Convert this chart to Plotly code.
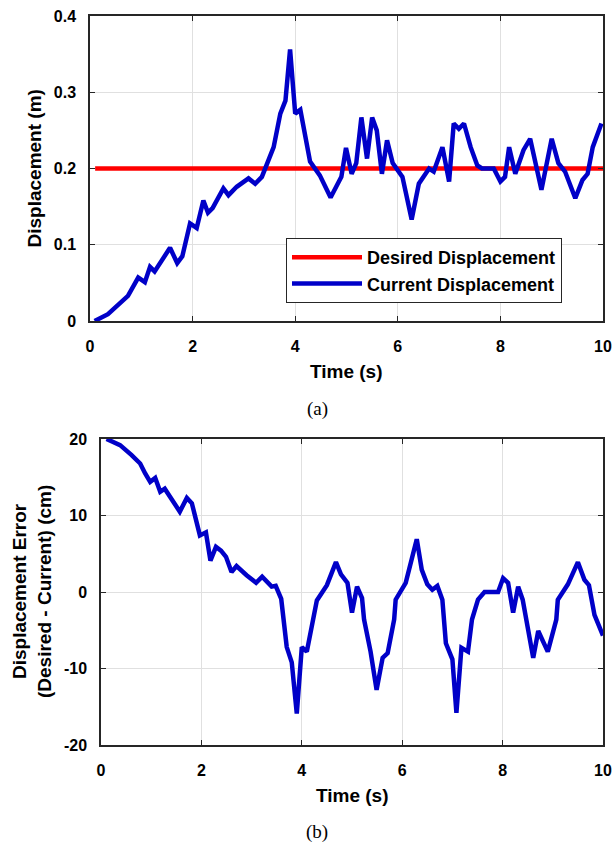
import plotly.graph_objects as go

# ---------------- data ----------------
desired_t = [0.1, 10.0]
desired_disp = [0.2, 0.2]

current_t = [0.09, 0.35, 0.74, 0.94, 1.07, 1.17, 1.26, 1.56, 1.70, 1.80,
             1.95, 2.08, 2.21, 2.30, 2.39, 2.60, 2.70, 2.86, 3.09, 3.22,
             3.35, 3.48, 3.58, 3.71, 3.81, 3.90, 4.00, 4.10, 4.29, 4.48,
             4.69, 4.90, 4.99, 5.10, 5.19, 5.29, 5.40, 5.50, 5.59, 5.69,
             5.79, 5.90, 6.09, 6.27, 6.41, 6.61, 6.70, 6.87, 7.00, 7.09,
             7.19, 7.29, 7.42, 7.55, 7.64, 7.87, 8.00, 8.09, 8.17, 8.29,
             8.45, 8.58, 8.80, 9.00, 9.13, 9.26, 9.46, 9.60, 9.70, 9.80,
             9.97]
current_disp = [0.0, 0.009, 0.033, 0.057, 0.051, 0.071, 0.065, 0.096, 0.076, 0.085,
                0.128, 0.122, 0.158, 0.142, 0.148, 0.174, 0.165, 0.176, 0.187, 0.180,
                0.189, 0.211, 0.228, 0.272, 0.289, 0.356, 0.272, 0.277, 0.209, 0.191,
                0.162, 0.189, 0.227, 0.193, 0.207, 0.267, 0.213, 0.267, 0.250, 0.193,
                0.237, 0.207, 0.189, 0.133, 0.180, 0.200, 0.196, 0.228, 0.183, 0.259,
                0.252, 0.259, 0.228, 0.204, 0.200, 0.200, 0.183, 0.189, 0.228, 0.193,
                0.224, 0.239, 0.172, 0.239, 0.207, 0.196, 0.161, 0.185, 0.193, 0.228,
                0.259]

error_t = [0.11, 0.38, 0.61, 0.78, 0.88, 0.98, 1.08, 1.18, 1.27, 1.41,
           1.57, 1.71, 1.81, 1.97, 2.09, 2.18, 2.29, 2.39, 2.49, 2.60,
           2.70, 2.90, 3.09, 3.21, 3.40, 3.48, 3.59, 3.70, 3.80, 3.90,
           4.00, 4.10, 4.30, 4.50, 4.68, 4.78, 4.91, 5.00, 5.10, 5.20,
           5.24, 5.37, 5.49, 5.61, 5.71, 5.84, 5.87, 6.07, 6.21, 6.29,
           6.39, 6.50, 6.60, 6.70, 6.80, 6.87, 7.00, 7.08, 7.18, 7.31,
           7.39, 7.51, 7.64, 7.91, 8.01, 8.11, 8.21, 8.31, 8.40, 8.47,
           8.61, 8.71, 8.90, 9.07, 9.10, 9.30, 9.50, 9.63, 9.72, 9.83,
           10.0]
error_cm = [20, 19.2, 17.9, 16.8, 15.5, 14.4, 14.9, 13.1, 13.5, 12.0,
            10.5, 12.3, 11.6, 7.4, 7.8, 4.1, 5.9, 5.4, 4.6, 2.6,
            3.4, 2.2, 1.2, 2.0, 0.7, 0.8, -0.9, -7.2, -9.2, -15.9,
            -7.2, -7.8, -1.1, 0.9, 3.9, 2.3, 1.2, -2.7, 0.7, -0.8,
            -3.6, -7.8, -12.8, -8.6, -8.0, -3.6, -1.0, 1.2, 5.1, 6.9,
            2.9, 1.0, 0.3, 0.8, -1.0, -6.7, -8.8, -15.8, -7.3, -7.8,
            -3.6, -1.0, 0, 0, 1.8, 1.2, -2.7, 0.7, -1.0, -3.6,
            -8.6, -5.1, -7.8, -3.6, -1.0, 1.0, 3.9, 1.6, 0.9, -3.0,
            -5.7]

x_ticks = [0, 2, 4, 6, 8, 10]
x_ticktext = ["0", "2", "4", "6", "8", "10"]
y1_ticks = [0, 0.1, 0.2, 0.3, 0.4]
y1_ticktext = ["0", "0.1", "0.2", "0.3", "0.4"]
y2_ticks = [-20, -10, 0, 10, 20]
y2_ticktext = ["-20", "-10", "0", "10", "20"]

# ---------------- figure ----------------
W, H = 616, 846
FONT = "Liberation Sans, Arial, sans-serif"
BLUE = "#0000C8"
RED = "#FF0000"
AXC = "#262626"
GRID = "#E0E0E0"

fig = go.Figure()
fig.add_trace(go.Scatter(x=desired_t, y=desired_disp, mode="lines",
                         line=dict(color=RED, width=4.5),
                         name="Desired Displacement", xaxis="x", yaxis="y"))
fig.add_trace(go.Scatter(x=current_t, y=current_disp, mode="lines",
                         line=dict(color=BLUE, width=4.5),
                         name="Current Displacement", xaxis="x", yaxis="y"))
fig.add_trace(go.Scatter(x=error_t, y=error_cm, mode="lines",
                         line=dict(color=BLUE, width=4.5),
                         showlegend=False, xaxis="x2", yaxis="y2"))

def px_x(p):
    return p / W

def px_y(p):
    return 1 - p / H

tickfont = dict(family=FONT, size=16, color="#000000", weight="bold")
common = dict(showline=True, linecolor=AXC, linewidth=1.5, mirror="ticks",
              ticks="inside", ticklen=5, tickcolor=AXC, tickwidth=1,
              showgrid=True, gridcolor=GRID, gridwidth=1, zeroline=False,
              tickfont=tickfont, automargin=False)

fig.update_layout(
    width=W, height=H,
    margin=dict(l=0, r=0, t=0, b=0, pad=0, autoexpand=False),
    paper_bgcolor="white", plot_bgcolor="white",
    xaxis=dict(domain=[px_x(90), px_x(603)], range=[0, 10], anchor="y",
               tickvals=x_ticks, ticktext=x_ticktext, ticklabelstandoff=10, **common),
    yaxis=dict(domain=[px_y(321), px_y(16)], range=[0, 0.4], anchor="x",
               tickvals=y1_ticks, ticktext=y1_ticktext, ticklabelstandoff=9, **common),
    xaxis2=dict(domain=[px_x(101), px_x(603)], range=[0, 10], anchor="y2",
                tickvals=x_ticks, ticktext=x_ticktext, ticklabelstandoff=10, **common),
    yaxis2=dict(domain=[px_y(745), px_y(439)], range=[-20, 20], anchor="x2",
                tickvals=y2_ticks, ticktext=y2_ticktext, ticklabelstandoff=9, **common),
    legend=dict(x=px_x(286), y=px_y(238), xanchor="left", yanchor="top",
                bgcolor="white", bordercolor=AXC, borderwidth=1,
                font=dict(family=FONT, size=18, color="#000000", weight="bold"),
                itemwidth=70, tracegroupgap=0),
    showlegend=True,
)

title_font = dict(family=FONT, size=19, color="#000000", weight="bold")
cap_font = dict(family="Liberation Serif, DejaVu Serif, serif", size=19, color="#000000")
annos = [
    dict(text="Time (s)", x=px_x(346.5), y=px_y(371.5), font=title_font, textangle=0),
    dict(text="Displacement (m)", x=px_x(34), y=px_y(168.5), font=title_font, textangle=-90),
    dict(text="(a)", x=px_x(317), y=px_y(409), font=cap_font, textangle=0),
    dict(text="Time (s)", x=px_x(352), y=px_y(795), font=title_font, textangle=0),
    dict(text="Displacement Error<br>(Desired - Current) (cm)", x=px_x(32), y=px_y(592),
         font=title_font, textangle=-90),
    dict(text="(b)", x=px_x(317), y=px_y(832), font=cap_font, textangle=0),
]
for a in annos:
    fig.add_annotation(xref="paper", yref="paper", showarrow=False,
                       xanchor="center", yanchor="middle", **a)

fig.write_html("out.html")
